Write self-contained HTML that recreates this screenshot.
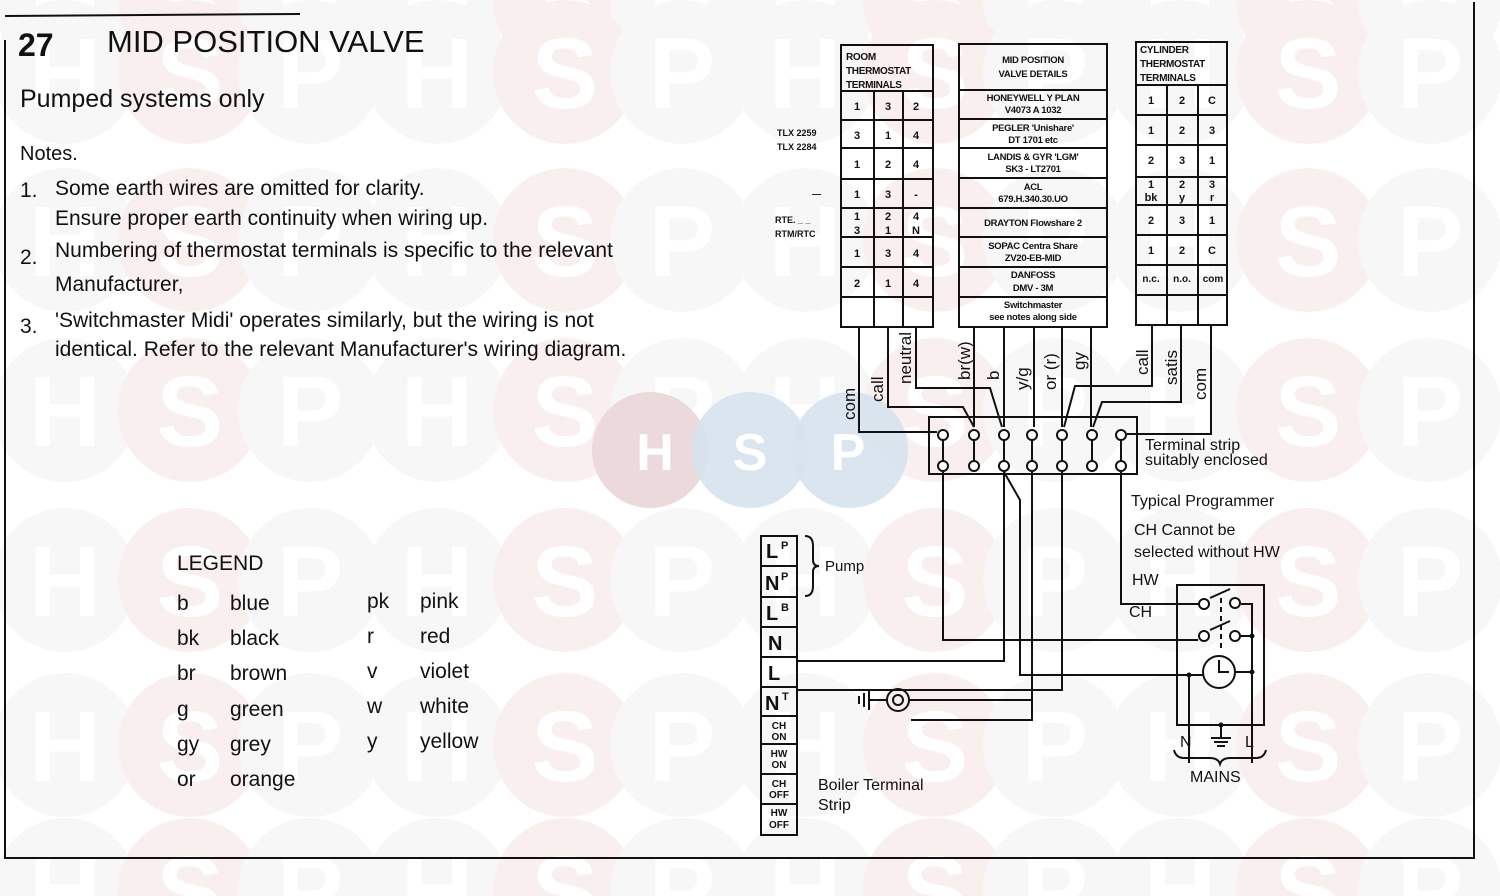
<!DOCTYPE html>
<html><head><meta charset="utf-8"><style>
html,body{margin:0;padding:0;background:#fff;width:1500px;height:896px;overflow:hidden}
svg{display:block}
text{font-family:"Liberation Sans",sans-serif;fill:#111}
</style></head><body>
<svg width="1500" height="896" viewBox="0 0 1500 896" xmlns="http://www.w3.org/2000/svg">
<g id="wm">
<g opacity="0.3">
<g id="row">
<circle cx="65" cy="0" r="72" fill="#e6e6e6"/><circle cx="190" cy="0" r="72" fill="#efcccc"/><circle cx="310" cy="0" r="72" fill="#e6e6e6"/>
<circle cx="437" cy="0" r="72" fill="#e6e6e6"/><circle cx="565" cy="0" r="72" fill="#efcccc"/><circle cx="682" cy="0" r="72" fill="#e6e6e6"/>
<circle cx="805" cy="0" r="72" fill="#e6e6e6"/><circle cx="935" cy="0" r="72" fill="#efcccc"/><circle cx="1055" cy="0" r="72" fill="#e6e6e6"/>
<circle cx="1180" cy="0" r="72" fill="#e6e6e6"/><circle cx="1308" cy="0" r="72" fill="#efcccc"/><circle cx="1430" cy="0" r="72" fill="#e6e6e6"/>
<g font-family="Liberation Sans" font-weight="bold" font-size="100" text-anchor="middle">
<text x="65" y="36" style="fill:#fff">H</text><text x="190" y="36" style="fill:#fff">S</text><text x="310" y="36" style="fill:#fff">P</text>
<text x="437" y="36" style="fill:#fff">H</text><text x="565" y="36" style="fill:#fff">S</text><text x="682" y="36" style="fill:#fff">P</text>
<text x="805" y="36" style="fill:#fff">H</text><text x="935" y="36" style="fill:#fff">S</text><text x="1055" y="36" style="fill:#fff">P</text>
<text x="1180" y="36" style="fill:#fff">H</text><text x="1308" y="36" style="fill:#fff">S</text><text x="1430" y="36" style="fill:#fff">P</text>
</g></g>
<use href="#row" y="72"/><use href="#row" y="240"/><use href="#row" y="410"/><use href="#row" y="580"/><use href="#row" y="745"/><use href="#row" y="890"/>
</g>
<circle cx="650" cy="450" r="58" fill="#ecd9dc"/><circle cx="750" cy="450" r="58" fill="#d6e2ee" opacity="0.9"/><circle cx="850" cy="450" r="58" fill="#d6e2ee" opacity="0.9"/>
<g font-weight="bold" font-size="52" text-anchor="middle"><text x="655" y="470" style="fill:#fff">H</text><text x="750" y="470" style="fill:#fff">S</text><text x="848" y="470" style="fill:#fff">P</text></g>
</g>
<g fill="none" stroke="#111" stroke-width="2">
<polyline points="5,40 5,858 1474,858 1474,2"/>
<line x1="5" y1="16" x2="300" y2="14"/>
</g>
<text x="18" y="56" font-size="32" font-weight="bold">27</text>
<text x="107" y="52" font-size="31">MID POSITION VALVE</text>
<text x="20" y="107" font-size="25">Pumped systems only</text>
<text x="20" y="160" font-size="20">Notes.</text>
<g font-size="21">
<text x="20" y="197">1.</text><text x="55" y="195">Some earth wires are omitted for clarity.</text>
<text x="55" y="225">Ensure proper earth continuity when wiring up.</text>
<text x="20" y="264">2.</text><text x="55" y="257">Numbering of thermostat terminals is specific to the relevant</text>
<text x="55" y="291">Manufacturer,</text>
<text x="20" y="333">3.</text><text x="55" y="327">'Switchmaster Midi' operates similarly, but the wiring is not</text>
<text x="55" y="356">identical. Refer to the relevant Manufacturer's wiring diagram.</text>
</g>
<g font-size="21">
<text x="177" y="570">LEGEND</text>
<text x="177" y="610">b</text><text x="230" y="610">blue</text>
<text x="177" y="645">bk</text><text x="230" y="645">black</text>
<text x="177" y="680">br</text><text x="230" y="680">brown</text>
<text x="177" y="716">g</text><text x="230" y="716">green</text>
<text x="177" y="751">gy</text><text x="230" y="751">grey</text>
<text x="177" y="786">or</text><text x="230" y="786">orange</text>
<text x="367" y="608">pk</text><text x="420" y="608">pink</text>
<text x="367" y="643">r</text><text x="420" y="643">red</text>
<text x="367" y="678">v</text><text x="420" y="678">violet</text>
<text x="367" y="713">w</text><text x="420" y="713">white</text>
<text x="367" y="748">y</text><text x="420" y="748">yellow</text>
</g>
<g fill="none" stroke="#111" stroke-width="2">
<rect x="841" y="45" width="92" height="282"/>
<line x1="841" y1="91" x2="933" y2="91"/><line x1="841" y1="120" x2="933" y2="120"/><line x1="841" y1="148" x2="933" y2="148"/><line x1="841" y1="179" x2="933" y2="179"/><line x1="841" y1="208" x2="933" y2="208"/><line x1="841" y1="237" x2="933" y2="237"/><line x1="841" y1="267" x2="933" y2="267"/><line x1="841" y1="297" x2="933" y2="297"/>
<line x1="874" y1="91" x2="874" y2="327"/><line x1="903" y1="91" x2="903" y2="327"/>
<rect x="959" y="44" width="148" height="283"/>
<line x1="959" y1="90" x2="1107" y2="90"/><line x1="959" y1="119" x2="1107" y2="119"/><line x1="959" y1="148" x2="1107" y2="148"/><line x1="959" y1="178" x2="1107" y2="178"/><line x1="959" y1="208" x2="1107" y2="208"/><line x1="959" y1="237" x2="1107" y2="237"/><line x1="959" y1="267" x2="1107" y2="267"/><line x1="959" y1="297" x2="1107" y2="297"/>
<rect x="1136" y="42" width="91" height="283"/>
<line x1="1136" y1="85" x2="1227" y2="85"/><line x1="1136" y1="115" x2="1227" y2="115"/><line x1="1136" y1="145" x2="1227" y2="145"/><line x1="1136" y1="177" x2="1227" y2="177"/><line x1="1136" y1="205" x2="1227" y2="205"/><line x1="1136" y1="235" x2="1227" y2="235"/><line x1="1136" y1="265" x2="1227" y2="265"/><line x1="1136" y1="295" x2="1227" y2="295"/>
<line x1="1167" y1="85" x2="1167" y2="325"/><line x1="1198" y1="85" x2="1198" y2="325"/>
</g>
<g font-size="10" font-weight="bold" style="letter-spacing:-0.3px">
<text x="846" y="60">ROOM</text><text x="846" y="74">THERMOSTAT</text><text x="846" y="88">TERMINALS</text>
<text x="1140" y="53">CYLINDER</text><text x="1140" y="67">THERMOSTAT</text><text x="1140" y="81">TERMINALS</text>
</g>
<g font-size="11" font-weight="bold" text-anchor="middle">
<text x="857" y="110">1</text><text x="888" y="110">3</text><text x="916" y="110">2</text>
<text x="857" y="139">3</text><text x="888" y="139">1</text><text x="916" y="139">4</text>
<text x="857" y="168">1</text><text x="888" y="168">2</text><text x="916" y="168">4</text>
<text x="857" y="198">1</text><text x="888" y="198">3</text><text x="916" y="198">-</text>
<text x="857" y="220">1</text><text x="888" y="220">2</text><text x="916" y="220">4</text>
<text x="857" y="234">3</text><text x="888" y="234">1</text><text x="916" y="234">N</text>
<text x="857" y="257">1</text><text x="888" y="257">3</text><text x="916" y="257">4</text>
<text x="857" y="287">2</text><text x="888" y="287">1</text><text x="916" y="287">4</text>
<text x="1151" y="104">1</text><text x="1182" y="104">2</text><text x="1212" y="104">C</text>
<text x="1151" y="134">1</text><text x="1182" y="134">2</text><text x="1212" y="134">3</text>
<text x="1151" y="164">2</text><text x="1182" y="164">3</text><text x="1212" y="164">1</text>
<text x="1151" y="188">1</text><text x="1182" y="188">2</text><text x="1212" y="188">3</text>
<text x="1151" y="201">bk</text><text x="1182" y="201">y</text><text x="1212" y="201">r</text>
<text x="1151" y="224">2</text><text x="1182" y="224">3</text><text x="1212" y="224">1</text>
<text x="1151" y="254">1</text><text x="1182" y="254">2</text><text x="1212" y="254">C</text>
<text x="1151" y="282" font-size="10">n.c.</text><text x="1182" y="282" font-size="10">n.o.</text><text x="1213" y="282" font-size="10">com</text>
</g>
<g font-size="9.5" font-weight="bold" text-anchor="middle" style="letter-spacing:-0.3px">
<text x="1033" y="63">MID POSITION</text><text x="1033" y="77">VALVE DETAILS</text>
<text x="1033" y="101">HONEYWELL Y PLAN</text><text x="1033" y="113">V4073 A 1032</text>
<text x="1033" y="131">PEGLER 'Unishare'</text><text x="1033" y="143">DT 1701 etc</text>
<text x="1033" y="160">LANDIS &amp; GYR 'LGM'</text><text x="1033" y="172">SK3 - LT2701</text>
<text x="1033" y="190">ACL</text><text x="1033" y="202">679.H.340.30.UO</text>
<text x="1033" y="226">DRAYTON Flowshare 2</text>
<text x="1033" y="249">SOPAC Centra Share</text><text x="1033" y="261">ZV20-EB-MID</text>
<text x="1033" y="278">DANFOSS</text><text x="1033" y="291">DMV - 3M</text>
<text x="1033" y="308">Switchmaster</text><text x="1033" y="320">see notes along side</text>
</g>
<g font-size="9" font-weight="bold"><text x="777" y="136">TLX 2259</text><text x="777" y="150">TLX 2284</text>
<text x="812" y="197">—</text><text x="775" y="223">RTE. _ _</text><text x="775" y="237">RTM/RTC</text></g>
<g fill="none" stroke="#111" stroke-width="2">
<rect x="929" y="417" width="208" height="57"/>
<polyline points="859,327 859,432 937,432"/>
<polyline points="888,327 888,407 963,407 974,427"/>
<polyline points="916,327 916,388 990,388 1002,427"/>
<line x1="974" y1="327" x2="974" y2="427"/>
<line x1="1004" y1="327" x2="1004" y2="427"/>
<line x1="1034" y1="327" x2="1034" y2="427"/>
<line x1="1062" y1="327" x2="1062" y2="427"/>
<line x1="1091" y1="327" x2="1091" y2="427"/>
<polyline points="1152,325 1152,386 1075,386 1064,427"/>
<polyline points="1181,325 1181,402 1102,402 1093,427"/>
<polyline points="1211,325 1211,434 1127,434"/>
<line x1="943" y1="435" x2="943" y2="466"/><line x1="974" y1="435" x2="974" y2="466"/><line x1="1004" y1="435" x2="1004" y2="466"/><line x1="1032" y1="435" x2="1032" y2="466"/><line x1="1062" y1="435" x2="1062" y2="466"/><line x1="1092" y1="435" x2="1092" y2="466"/><line x1="1121" y1="435" x2="1121" y2="466"/>
<polyline points="943,472 943,640 1198,640"/>
<polyline points="1004,472 1004,661 797,661"/>
<polyline points="1004,472 1020,500 1020,675 1189,675"/>
<polyline points="1062,472 1062,690 797,690"/>
<polyline points="1032,472 1032,720 911,720"/>
<polyline points="1121,472 1121,604 1198,604"/>
<rect x="1177" y="585" width="87" height="140"/>
<line x1="1210" y1="598" x2="1230" y2="589"/><line x1="1210" y1="630" x2="1230" y2="621"/>
<line x1="1221" y1="598" x2="1221" y2="652" stroke-dasharray="5,4"/>
<polyline points="1241,604 1252,604 1252,763"/>
<line x1="1241" y1="636" x2="1252" y2="636"/>
<line x1="1235" y1="672" x2="1252" y2="672"/>
<polyline points="1189,763 1189,675 1203,675"/>
<circle cx="1219" cy="672" r="16"/>
<polyline points="1219,660 1219,672 1229,672"/>
<line x1="1221" y1="725" x2="1221" y2="738"/>
<line x1="1211" y1="738" x2="1231" y2="738"/><line x1="1214" y1="742" x2="1228" y2="742"/><line x1="1217" y1="746" x2="1225" y2="746"/>
<path d="M1174,750 q2,8 10,8 h26 q8,0 10,6 q2,-6 10,-6 h26 q8,0 10,-8"/>
<rect x="761" y="536" width="36" height="299"/>
<line x1="761" y1="566" x2="797" y2="566"/><line x1="761" y1="597" x2="797" y2="597"/><line x1="761" y1="627" x2="797" y2="627"/><line x1="761" y1="657" x2="797" y2="657"/><line x1="761" y1="687" x2="797" y2="687"/><line x1="761" y1="716" x2="797" y2="716"/><line x1="761" y1="744" x2="797" y2="744"/><line x1="761" y1="774" x2="797" y2="774"/><line x1="761" y1="804" x2="797" y2="804"/>
<path d="M805,536 q8,0 8,10 v14 q0,6 6,6 q-6,0 -6,6 v14 q0,10 -8,10"/>
<circle cx="898" cy="700" r="11"/><circle cx="898" cy="700" r="5"/>
<line x1="869" y1="700" x2="887" y2="700"/>
<line x1="869" y1="690" x2="869" y2="710"/><line x1="864" y1="693" x2="864" y2="707"/><line x1="859" y1="696" x2="859" y2="704"/>
<polyline points="909,700 1032,700 1032,720"/>
</g>
<g fill="#fff" stroke="#111" stroke-width="2">
<circle cx="943" cy="435" r="5"/><circle cx="974" cy="435" r="5"/><circle cx="1004" cy="435" r="5"/><circle cx="1032" cy="435" r="5"/><circle cx="1062" cy="435" r="5"/><circle cx="1092" cy="435" r="5"/><circle cx="1121" cy="435" r="5"/>
<circle cx="943" cy="466" r="5"/><circle cx="974" cy="466" r="5"/><circle cx="1004" cy="466" r="5"/><circle cx="1032" cy="466" r="5"/><circle cx="1062" cy="466" r="5"/><circle cx="1092" cy="466" r="5"/><circle cx="1121" cy="466" r="5"/>
<circle cx="1204" cy="604" r="5"/><circle cx="1235" cy="603" r="5"/><circle cx="1204" cy="636" r="5"/><circle cx="1235" cy="636" r="5"/>
</g>
<g fill="#111"><circle cx="1252" cy="636" r="2.5"/><circle cx="1252" cy="672" r="2.5"/><circle cx="1189" cy="675" r="2.5"/><circle cx="1221" cy="725" r="2.5"/></g>
<g font-size="17">
<text transform="translate(855,420) rotate(-90)">com</text>
<text transform="translate(883,402) rotate(-90)">call</text>
<text transform="translate(911,384) rotate(-90)">neutral</text>
<text transform="translate(970,380) rotate(-90)">br(w)</text>
<text transform="translate(999,380) rotate(-90)">b</text>
<text transform="translate(1028,390) rotate(-90)">y/g</text>
<text transform="translate(1056,390) rotate(-90)">or (r)</text>
<text transform="translate(1085,370) rotate(-90)">gy</text>
<text transform="translate(1148,375) rotate(-90)">call</text>
<text transform="translate(1177,385) rotate(-90)">satis</text>
<text transform="translate(1206,400) rotate(-90)">com</text>
</g>
<g font-size="16">
<text x="1145" y="450">Terminal strip</text><text x="1145" y="465">suitably enclosed</text>
<text x="1131" y="506">Typical  Programmer</text>
<text x="1134" y="535">CH Cannot  be</text>
<text x="1134" y="557">selected  without HW</text>
<text x="1132" y="585">HW</text><text x="1129" y="617">CH</text>
<text x="1180" y="747">N</text><text x="1245" y="747">L</text>
<text x="1190" y="782">MAINS</text>
<text x="825" y="571" font-size="15">Pump</text>
<text x="818" y="790">Boiler Terminal</text><text x="818" y="810">Strip</text>
</g>
<g font-weight="bold" font-size="20">
<text x="766" y="558">L</text><text x="781" y="549" font-size="11">P</text>
<text x="765" y="590">N</text><text x="781" y="580" font-size="11">P</text>
<text x="766" y="620">L</text><text x="781" y="611" font-size="11">B</text>
<text x="768" y="650">N</text><text x="768" y="680">L</text>
<text x="765" y="710">N</text><text x="782" y="700" font-size="11">T</text>
</g>
<g font-weight="bold" font-size="10" text-anchor="middle">
<text x="779" y="729">CH</text><text x="779" y="740">ON</text>
<text x="779" y="757">HW</text><text x="779" y="768">ON</text>
<text x="779" y="787">CH</text><text x="779" y="798">OFF</text>
<text x="779" y="816">HW</text><text x="779" y="828">OFF</text>
</g>
</svg>
</body></html>
